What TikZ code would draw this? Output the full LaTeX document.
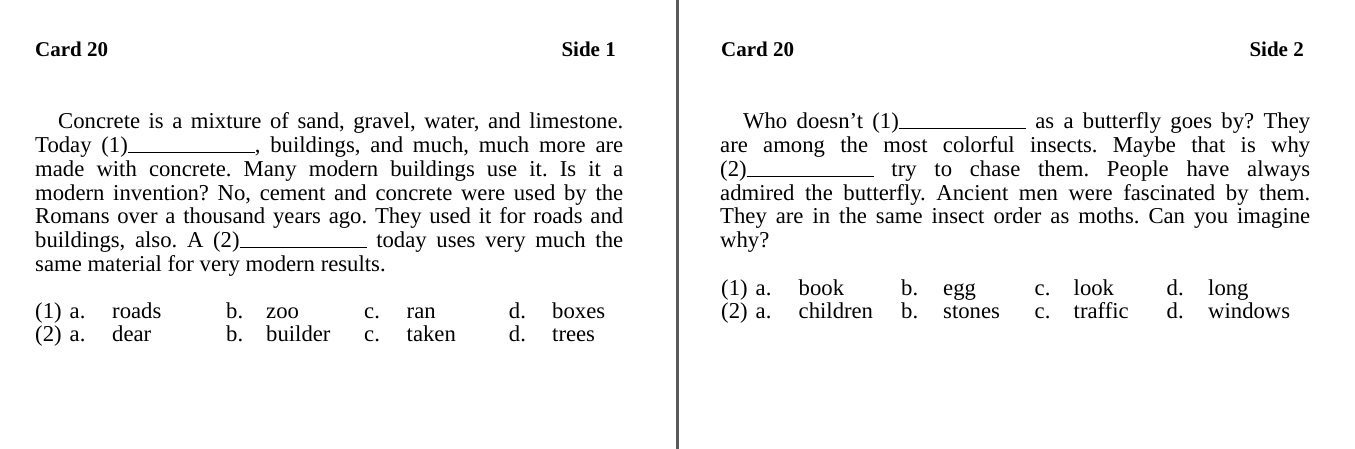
\documentclass[tikz,border=0pt]{standalone}
\usepackage{fontspec}
\setmainfont{Liberation Serif}
\frenchspacing
\newcommand{\gap}{\rule[-0.3pt]{127pt}{1pt}}
\newcommand{\jline}[2]{\makebox[#1][s]{#2}}

\begin{document}
\begin{tikzpicture}[x=1pt,y=-1pt,
    body/.style={anchor=base west,inner sep=0pt,font=\fontsize{22.7}{24}\selectfont},
    head/.style={inner sep=0pt,font=\fontsize{21}{24}\selectfont\bfseries}]
    \useasboundingbox (0,0) rectangle (1355,449);
    \coordinate (divtop) at (677.5,0);
    \coordinate (divbot) at (677.5,449);
    \draw[line width=3pt,gray!70!black] (divtop) -- (divbot);
    % side 1
    \node[head,anchor=base west] (card1) at (35,57) {Card 20};
    \node[head,anchor=base east] (side1) at (616,57) {Side 1};
    \node[body] (l1) at (58,129) {\jline{565pt}{Concrete is a mixture of sand, gravel, water, and limestone.}};
    \node[body] (l2) at (35,152.7) {\jline{588pt}{Today (1)\gap, buildings, and much, much more are}};
    \node[body] (l3) at (35,176.4) {\jline{588pt}{made with concrete. Many modern buildings use it. Is it a}};
    \node[body] (l4) at (35,200.1) {\jline{588pt}{modern invention? No, cement and concrete were used by the}};
    \node[body] (l5) at (35,223.8) {\jline{588pt}{Romans over a thousand years ago. They used it for roads and}};
    \node[body] (l6) at (35,247.5) {\jline{588pt}{buildings, also. A (2)\gap{} today uses very much the}};
    \node[body] (l7) at (35,271.2) {same material for very modern results.};
    \foreach \x/\t [count=\k] in {35/(1),69.5/a.,112/roads,226/b.,266/zoo,364/c.,406.5/ran,508.7/d.,552/boxes}
        \node[body] (la-\k) at (\x,318) {\t};
    \foreach \x/\t [count=\k] in {35/(2),69.5/a.,112/dear,226/b.,266/builder,364/c.,406.5/taken,508.7/d.,552/trees}
        \node[body] (lb-\k) at (\x,341.5) {\t};
    % side 2
    \node[head,anchor=base west] (card2) at (721,57) {Card 20};
    \node[head,anchor=base east] (side2) at (1304,57) {Side 2};
    \node[body] (r1) at (743,129) {\jline{567pt}{Who doesn’t (1)\gap{} as a butterfly goes by? They}};
    \node[body] (r2) at (720,152.7) {\jline{590pt}{are among the most colorful insects. Maybe that is why}};
    \node[body] (r3) at (720,176.4) {\jline{590pt}{(2)\gap{} try to chase them. People have always}};
    \node[body] (r4) at (720,200.1) {\jline{590pt}{admired the butterfly. Ancient men were fascinated by them.}};
    \node[body] (r5) at (720,223.8) {\jline{590pt}{They are in the same insect order as moths. Can you imagine}};
    \node[body] (r6) at (720,247.5) {why?};
    \foreach \x/\t [count=\k] in {721/(1),755.5/a.,798.5/book,901/b.,943/egg,1034.5/c.,1073.5/look,1166.5/d.,1208/long}
        \node[body] (ra-\k) at (\x,295) {\t};
    \foreach \x/\t [count=\k] in {721/(2),755.5/a.,798.5/children,901/b.,943/stones,1034.5/c.,1073.5/traffic,1166.5/d.,1208/windows}
        \node[body] (rb-\k) at (\x,318.5) {\t};
\end{tikzpicture}
\end{document}
